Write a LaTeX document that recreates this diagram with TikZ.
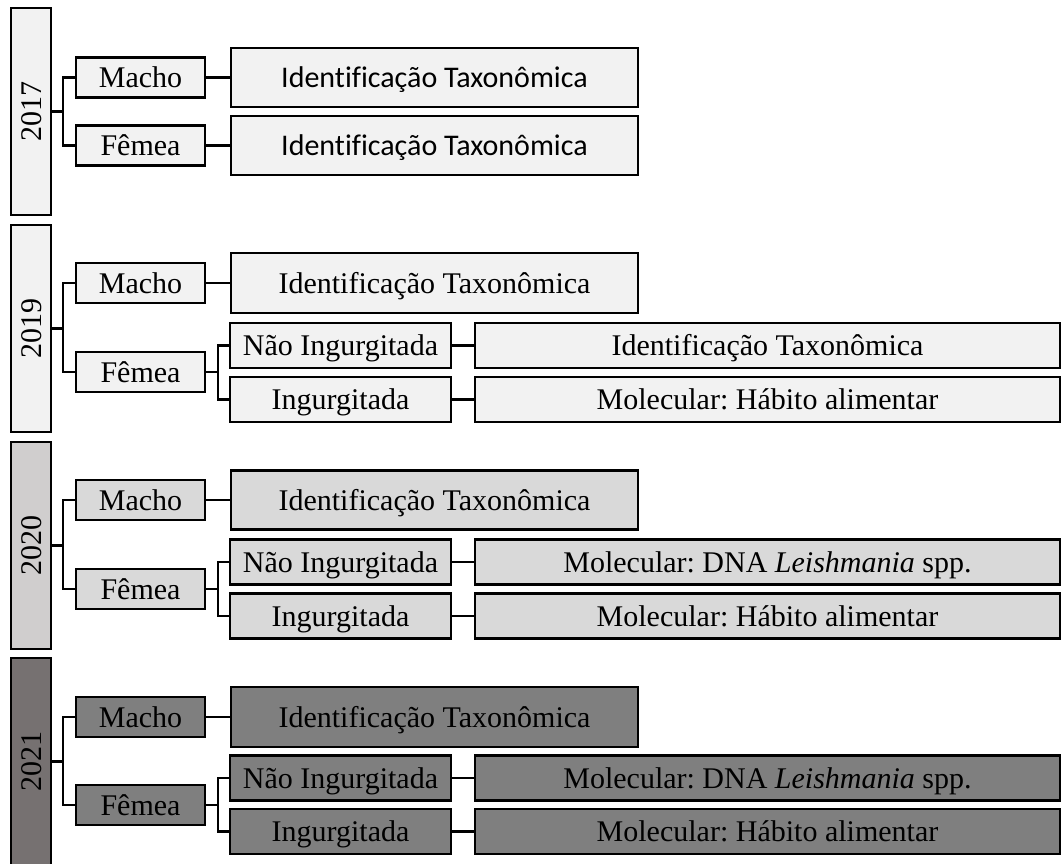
\documentclass[tikz,border=0pt]{standalone}
\usepackage{fontspec}
\setmainfont{Liberation Serif}
\newfontfamily\calibri[Ligatures=NoCommon]{Carlito}
\frenchspacing
\definecolor{cLight}{HTML}{F2F2F2}
\definecolor{cMid}{HTML}{D9D9D9}
\definecolor{cMidY}{HTML}{D0CECE}
\definecolor{cDark}{HTML}{7F7F7F}
\definecolor{cDarkY}{HTML}{767171}
\begin{document}
\begin{tikzpicture}[x=1pt,y=-1pt,
  every node/.style={font=\fontsize{30}{34}\selectfont},
  bx/.style={draw=black, line width=2.5pt, rectangle, inner sep=0pt, anchor=center, text height=20pt, text depth=0pt},
  yr/.style={bx, rotate=90, minimum width=207pt, minimum height=40pt},
  sex/.style={bx, minimum width=129pt, minimum height=40pt},
  idw/.style={bx, minimum width=407pt, minimum height=59pt},
  st/.style={bx, minimum width=221pt, minimum height=45pt},
  rt/.style={bx, minimum width=585pt, minimum height=45pt},
  cal/.style={font=\calibri\fontsize{30}{34}\selectfont},
  ln/.style={draw=black, line width=2.2pt},
]
\useasboundingbox (0,0) rectangle (1061,863);
\clip (0,0) rectangle (1061,863);

% ---------- 2017 ----------
\node[yr, fill=cLight] (y17) at (31,111.5) {2017};
\node[sex, fill=cLight] (m17) at (140.5,77.5) {Macho};
\node[sex, fill=cLight] (f17) at (140.5,145.5) {Fêmea};
\node[idw, fill=cLight, cal] (a17) at (434.5,77.5) {Identificação Taxonômica};
\node[idw, fill=cLight, cal] (b17) at (434.5,145.5) {Identificação Taxonômica};
\coordinate (t17) at (63,111.5);
\draw[ln] (y17.south) -- (t17);
\draw[ln] (m17.west) -- (m17.west -| t17) -- (f17.west -| t17) -- (f17.west);
\draw[ln] (m17.east) -- (a17.west);
\draw[ln] (f17.east) -- (b17.west);

% ---------- 2019 ----------
\node[yr, fill=cLight] (y19) at (31,328.5) {2019};
\node[sex, fill=cLight] (m19) at (140.5,283) {Macho};
\node[sex, fill=cLight] (f19) at (140.5,372) {Fêmea};
\node[idw, minimum height=60pt, fill=cLight] (a19) at (434.5,283) {Identificação Taxonômica};
\node[st, fill=cLight] (n19) at (340.5,345.5) {Não Ingurgitada};
\node[st, fill=cLight] (i19) at (340.5,399.5) {Ingurgitada};
\node[rt, fill=cLight] (rn19) at (767.5,345.5) {Identificação Taxonômica};
\node[rt, fill=cLight] (ri19) at (767.5,399.5) {Molecular: Hábito alimentar};
\coordinate (t19) at (63,328.5);
\coordinate (k19) at (218,372);
\draw[ln] (y19.south) -- (t19);
\draw[ln] (m19.west) -- (m19.west -| t19) -- (f19.west -| t19) -- (f19.west);
\draw[ln] (m19.east) -- (a19.west);
\draw[ln] (f19.east) -- (k19);
\draw[ln] (n19.west) -- (n19.west -| k19) -- (i19.west -| k19) -- (i19.west);
\draw[ln] (n19.east) -- (rn19.west);
\draw[ln] (i19.east) -- (ri19.west);

% ---------- 2020 ----------
\node[yr, fill=cMidY] (y20) at (31,545.5) {2020};
\node[sex, fill=cMid] (m20) at (140.5,500) {Macho};
\node[sex, fill=cMid] (f20) at (140.5,589) {Fêmea};
\node[idw, minimum height=59pt, fill=cMid] (a20) at (434.5,500) {Identificação Taxonômica};
\node[st, fill=cMid] (n20) at (340.5,562) {Não Ingurgitada};
\node[st, fill=cMid] (i20) at (340.5,616) {Ingurgitada};
\node[rt, fill=cMid] (rn20) at (767.5,562) {Molecular: DNA \textit{Leishmania} spp.};
\node[rt, fill=cMid] (ri20) at (767.5,616) {Molecular: Hábito alimentar};
\coordinate (t20) at (63,545.5);
\coordinate (k20) at (218,589);
\draw[ln] (y20.south) -- (t20);
\draw[ln] (m20.west) -- (m20.west -| t20) -- (f20.west -| t20) -- (f20.west);
\draw[ln] (m20.east) -- (a20.west);
\draw[ln] (f20.east) -- (k20);
\draw[ln] (n20.west) -- (n20.west -| k20) -- (i20.west -| k20) -- (i20.west);
\draw[ln] (n20.east) -- (rn20.west);
\draw[ln] (i20.east) -- (ri20.west);

% ---------- 2021 ----------
\node[yr, fill=cDarkY] (y21) at (31,761.5) {2021};
\node[sex, fill=cDark] (m21) at (140.5,717) {Macho};
\node[sex, fill=cDark] (f21) at (140.5,805) {Fêmea};
\node[idw, minimum height=60pt, fill=cDark] (a21) at (434.5,717) {Identificação Taxonômica};
\node[st, fill=cDark] (n21) at (340.5,778) {Não Ingurgitada};
\node[st, fill=cDark] (i21) at (340.5,831.5) {Ingurgitada};
\node[rt, fill=cDark] (rn21) at (767.5,778) {Molecular: DNA \textit{Leishmania} spp.};
\node[rt, fill=cDark] (ri21) at (767.5,831.5) {Molecular: Hábito alimentar};
\coordinate (t21) at (63,761.5);
\coordinate (k21) at (218,805);
\draw[ln] (y21.south) -- (t21);
\draw[ln] (m21.west) -- (m21.west -| t21) -- (f21.west -| t21) -- (f21.west);
\draw[ln] (m21.east) -- (a21.west);
\draw[ln] (f21.east) -- (k21);
\draw[ln] (n21.west) -- (n21.west -| k21) -- (i21.west -| k21) -- (i21.west);
\draw[ln] (n21.east) -- (rn21.west);
\draw[ln] (i21.east) -- (ri21.west);
\end{tikzpicture}
\end{document}
